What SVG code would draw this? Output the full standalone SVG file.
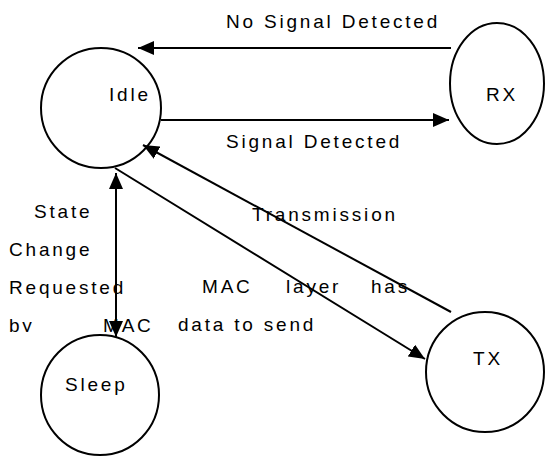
<svg xmlns="http://www.w3.org/2000/svg" width="545" height="457" viewBox="0 0 545 457">
<style>
.n{fill:none;stroke:#000;stroke-width:2}
.t{font-family:"Liberation Sans",Arial,sans-serif;font-size:19px;letter-spacing:2.8px;fill:#000}
.c{stroke:#000;stroke-width:2;fill:none}
</style>
<defs>
<marker id="ah" markerUnits="userSpaceOnUse" markerWidth="16" markerHeight="14" refX="16" refY="7" orient="auto-start-reverse">
<path d="M0,0 L16,7 L0,14 Z" fill="#000"/>
</marker>
<clipPath id="lbl"><rect x="0" y="195" width="165" height="137"/></clipPath>
</defs>
<rect width="545" height="457" fill="#fff"/>
<g id="labels">
<text class="t" x="226" y="28">No Signal Detected</text>
<text class="t" x="226" y="148">Signal Detected</text>
<text class="t" x="252" y="221">Transmission</text>
<g clip-path="url(#lbl)">
<text class="t" x="34" y="218">State</text>
<text class="t" x="9" y="256">Change</text>
<text class="t" x="9" y="294">Requested</text>
<text class="t" x="9" y="332">by</text>
<text class="t" x="103" y="332">MAC</text>
</g>
<text class="t" x="202" y="293">MAC</text>
<text class="t" x="286" y="293">layer</text>
<text class="t" x="371" y="293">has</text>
<text class="t" x="178" y="331">data to send</text>
</g>
<g id="Idle"><ellipse class="n" cx="101" cy="108" rx="60" ry="60"/><text class="t" x="109" y="101">Idle</text></g>
<g id="RX"><ellipse class="n" cx="497" cy="83.5" rx="47" ry="60.5"/><text class="t" x="486" y="101">RX</text></g>
<g id="Sleep"><ellipse class="n" cx="100" cy="395" rx="59" ry="60"/><text class="t" x="65" y="391">Sleep</text></g>
<g id="TX"><ellipse class="n" cx="485" cy="372" rx="59" ry="60"/><text class="t" x="473" y="365">TX</text></g>
<g id="connectors">
<line class="c" x1="451" y1="48" x2="138" y2="48" marker-end="url(#ah)"/>
<line class="c" x1="161" y1="120" x2="449" y2="120" marker-end="url(#ah)"/>
<line class="c" x1="116" y1="173" x2="116" y2="337" marker-start="url(#ah)" marker-end="url(#ah)"/>
<line class="c" x1="115" y1="168" x2="425" y2="359" marker-end="url(#ah)"/>
<line class="c" x1="451" y1="312" x2="143" y2="145" marker-end="url(#ah)"/>
</g>
</svg>
